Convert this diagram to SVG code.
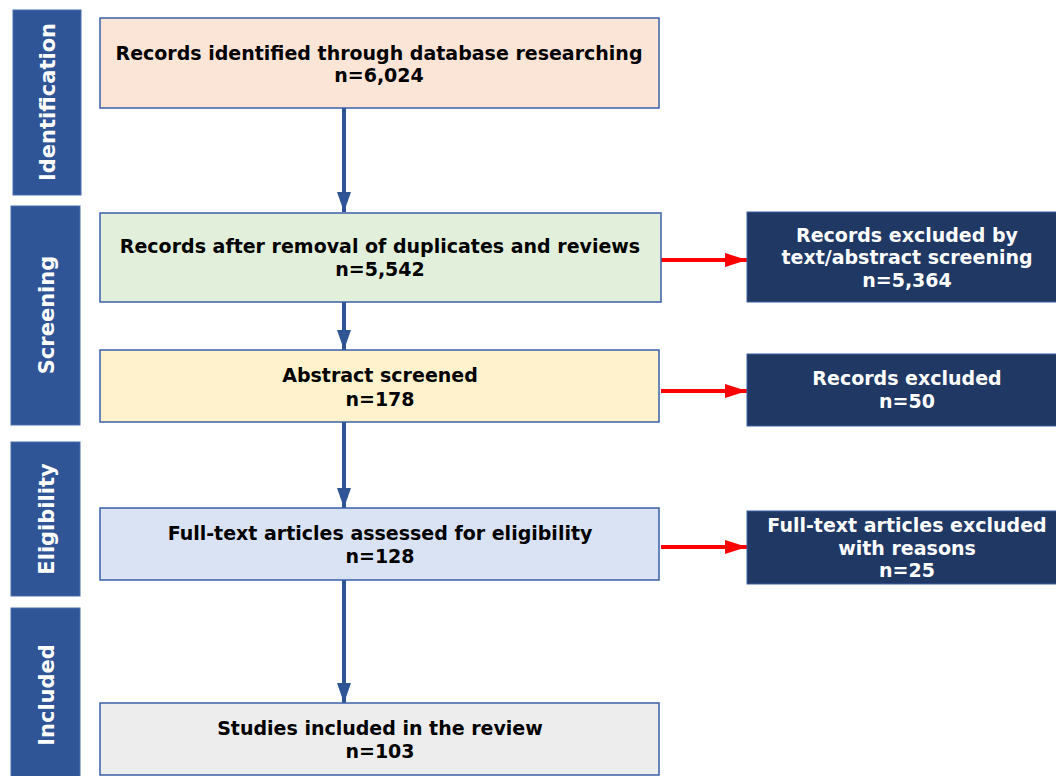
<svg xmlns="http://www.w3.org/2000/svg" width="1056" height="776" viewBox="0 0 1056 776">
<defs>
<style>
.bar{fill:#2F5597;stroke:#4A6FB0;stroke-width:1}
.box{stroke:#3A60A8;stroke-width:1.5}
.ex{fill:#203864;stroke:#3A60A8;stroke-width:1}
text{font-family:"DejaVu Sans","Verdana",sans-serif;font-weight:bold;font-size:19px;text-anchor:middle}
.side{font-size:21px}
.w{fill:#FFFFFF}
.k{fill:#000000}
.blue{stroke:#2F5597;stroke-width:4;fill:none}
.red{stroke:#FF0000;stroke-width:4;fill:none}
</style>
<marker id="ab" viewBox="0 0 20 14" refX="20" refY="7" markerWidth="20" markerHeight="14" markerUnits="userSpaceOnUse" orient="auto">
<path d="M0,0 L20,7 L0,14 Z" fill="#2F5597"/>
</marker>
<marker id="ar" viewBox="0 0 22 14" refX="22" refY="7" markerWidth="22" markerHeight="14" markerUnits="userSpaceOnUse" orient="auto">
<path d="M0,0 L22,7 L0,14 Z" fill="#FF0000"/>
</marker>
</defs>
<rect width="1056" height="776" fill="#FFFFFF"/>

<g id="stage-identification">
<rect class="bar" x="13" y="10" width="68" height="185"/>
<text class="w side" transform="translate(55,102) rotate(-90)">Identification</text>
</g>
<g id="stage-screening">
<rect class="bar" x="11" y="206" width="69" height="219"/>
<text class="w side" transform="translate(54,315) rotate(-90)">Screening</text>
</g>
<g id="stage-eligibility">
<rect class="bar" x="11" y="442" width="69" height="154"/>
<text class="w side" transform="translate(54,519) rotate(-90)">Eligibility</text>
</g>
<g id="stage-included">
<rect class="bar" x="11" y="608" width="69" height="170"/>
<text class="w side" transform="translate(54,695) rotate(-90)">Included</text>
</g>

<g id="connectors">
<line class="blue" x1="344" y1="108" x2="344" y2="212" marker-end="url(#ab)"/>
<line class="blue" x1="344" y1="302" x2="344" y2="350" marker-end="url(#ab)"/>
<line class="blue" x1="344" y1="422" x2="344" y2="508" marker-end="url(#ab)"/>
<line class="blue" x1="344" y1="580" x2="344" y2="703" marker-end="url(#ab)"/>
<line class="red" x1="661" y1="260" x2="747" y2="260" marker-end="url(#ar)"/>
<line class="red" x1="661" y1="391" x2="747" y2="391" marker-end="url(#ar)"/>
<line class="red" x1="661" y1="547" x2="747" y2="547" marker-end="url(#ar)"/>
</g>

<g id="identified">
<rect class="box" x="100" y="18" width="559" height="90" fill="#FBE5D6"/>
<text class="k" x="379" y="60">Records identified through database researching</text>
<text class="k" x="379" y="82">n=6,024</text>
</g>
<g id="after-duplicates">
<rect class="box" x="100" y="213" width="561" height="89" fill="#E2EFDA"/>
<text class="k" x="380" y="253">Records after removal of duplicates and reviews</text>
<text class="k" x="380" y="276">n=5,542</text>
</g>
<g id="abstract-screened">
<rect class="box" x="100" y="350" width="559" height="72" fill="#FFF2CC"/>
<text class="k" x="380" y="382">Abstract screened</text>
<text class="k" x="380" y="406">n=178</text>
</g>
<g id="full-text">
<rect class="box" x="100" y="508" width="559" height="72" fill="#DAE3F3"/>
<text class="k" x="380" y="540">Full-text articles assessed for eligibility</text>
<text class="k" x="380" y="563">n=128</text>
</g>
<g id="included">
<rect class="box" x="100" y="703" width="559" height="72" fill="#EDEDED"/>
<text class="k" x="380" y="735">Studies included in the review</text>
<text class="k" x="380" y="758">n=103</text>
</g>

<g id="excluded-1">
<rect class="ex" x="747" y="212" width="312" height="90"/>
<text class="w" x="907" y="242">Records excluded by</text>
<text class="w" x="907" y="264">text/abstract screening</text>
<text class="w" x="907" y="287">n=5,364</text>
</g>
<g id="excluded-2">
<rect class="ex" x="747" y="354" width="312" height="72"/>
<text class="w" x="907" y="385">Records excluded</text>
<text class="w" x="907" y="408">n=50</text>
</g>
<g id="excluded-3">
<rect class="ex" x="747" y="511" width="312" height="73"/>
<text class="w" x="907" y="532">Full-text articles excluded</text>
<text class="w" x="907" y="555">with reasons</text>
<text class="w" x="907" y="577">n=25</text>
</g>
</svg>
